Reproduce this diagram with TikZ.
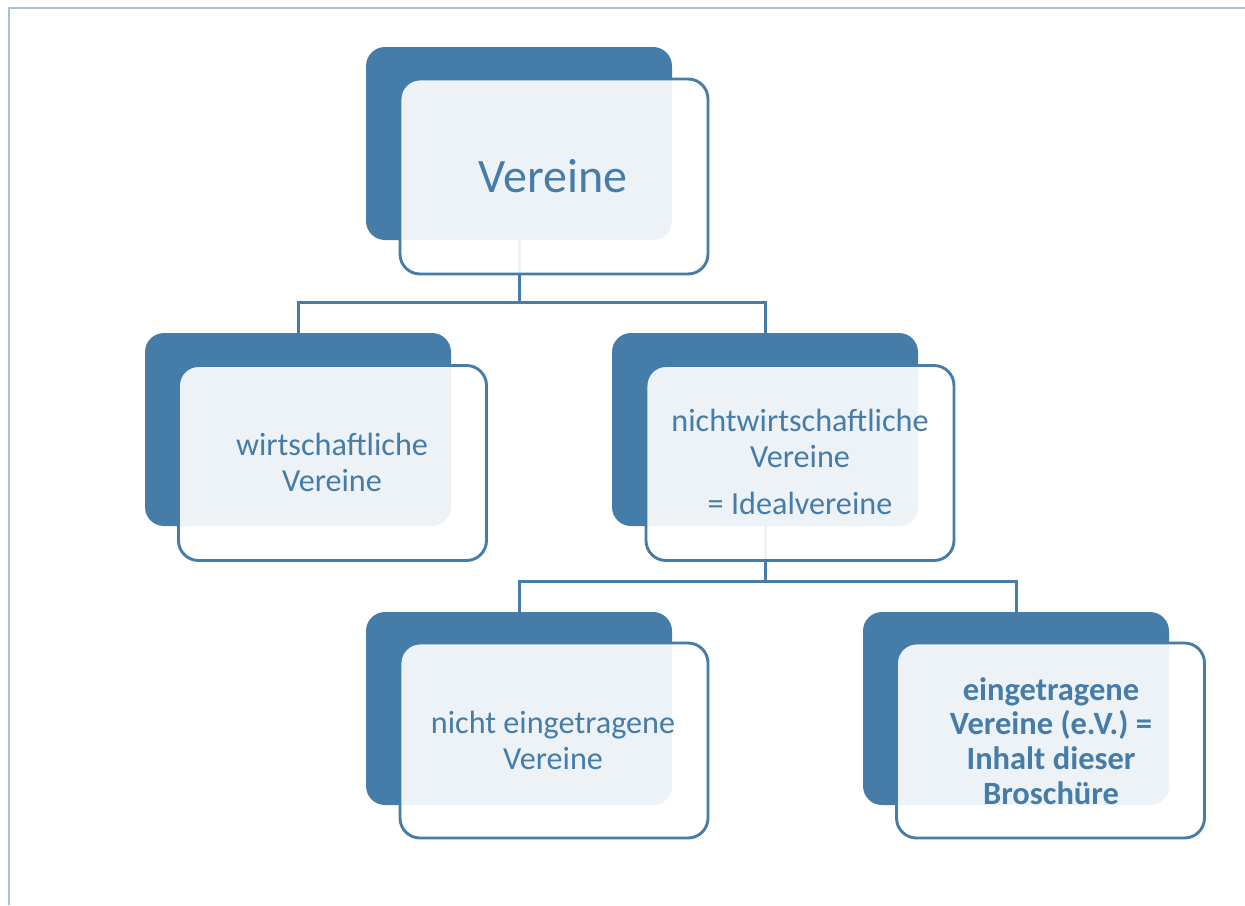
\documentclass[tikz,border=0pt]{standalone}
\usepackage{fontspec}
\setmainfont{Carlito}
\definecolor{dblue}{HTML}{467CA8}
\definecolor{frame}{HTML}{A5C3D8}
\begin{document}
\begin{tikzpicture}[x=1pt,y=-1pt,
  darkbox/.style={rectangle,rounded corners=19pt,fill=dblue,draw=none,minimum width=306pt,minimum height=193pt,inner sep=0pt},
  lightbox/.style={rectangle,rounded corners=20pt,draw=dblue,line width=2.9pt,fill=white,fill opacity=0.9,draw opacity=1,minimum width=308pt,minimum height=195pt,inner sep=0pt},
  conn/.style={draw=dblue,line width=3pt},
  lbl/.style={text=dblue,align=center,inner sep=0pt,font=\fontsize{32.2}{36}\selectfont},
  blbl/.style={text=dblue,align=center,inner sep=0pt,font=\fontsize{32.5}{34.7}\selectfont\bfseries}]
\useasboundingbox (0,0) rectangle (1245,905);
\draw[frame,line width=2.4pt] (9,905) coordinate (fa) -- (9,8) coordinate (fb) -- (1245,8) coordinate (fc);
% dark boxes
\node[darkbox] (d1) at (519,143.5) {};
\node[darkbox] (d2) at (298,429.5) {};
\node[darkbox] (d3) at (765,429.5) {};
\node[darkbox] (d4) at (519,708.5) {};
\node[darkbox] (d5) at (1016,708.5) {};
% connectors
\draw[conn] (d1.south) -- ++(0,62) coordinate (j1);
\draw[conn] (j1) -| (d2.north);
\draw[conn] (j1) -| (d3.north);
\draw[conn] (d3.south) -- ++(0,55) coordinate (j2);
\draw[conn] (j2) -| (d4.north);
\draw[conn] (j2) -| (d5.north);
% light boxes
\node[lightbox] (l1) at (554,176.5) {};
\node[lightbox] (l2) at (332.5,463) {};
\node[lightbox] (l3) at (800,463) {};
\node[lightbox] (l4) at (554,740.5) {};
\node[lightbox] (l5) at (1050.5,740.5) {};
% texts
\node[text=dblue,inner sep=0pt,font=\fontsize{48}{58}\selectfont] (t1) at (553,176) {Vereine};
\node[lbl] (t2) at (332,462) {wirtschaftliche\\Vereine};
\node[lbl] (t3) at (800,462) {nichtwirtschaftliche\\Vereine\\[11pt]= Idealvereine};
\node[lbl] (t4) at (553,740) {nicht eingetragene\\Vereine};
\node[blbl] (t5) at (1051,741) {eingetragene\\Vereine (e.V.) =\\Inhalt dieser\\Broschüre};
\end{tikzpicture}
\end{document}
